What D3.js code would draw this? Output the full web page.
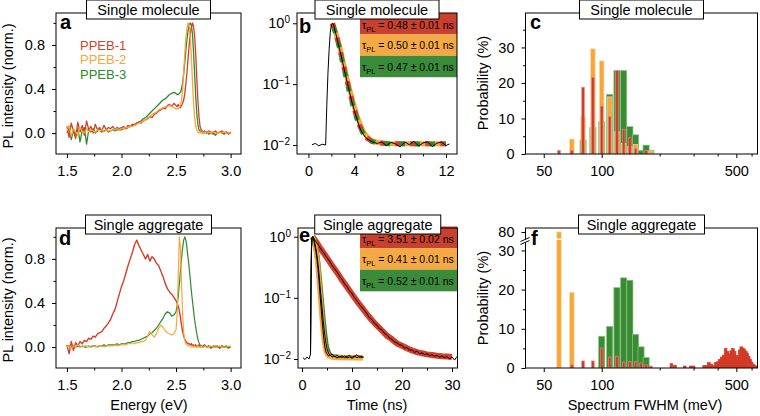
<!DOCTYPE html>
<html><head><meta charset="utf-8">
<script src="https://cdn.jsdelivr.net/npm/d3@7"></script>
<style>
body{margin:0;background:#fff}
svg{font-family:"Liberation Sans",Arial,Helvetica,sans-serif;display:block}
</style></head><body>
<svg id="chart" width="760" height="416"></svg>
<script>
// ---------------- DATA ----------------
const seriesNames = ["PPEB-1","PPEB-2","PPEB-3"];
const energy = [1.50,1.52,1.54,1.56,1.58,1.60,1.62,1.64,1.66,1.68,1.70,1.72,1.74,1.76,1.78,1.80,1.82,1.84,1.86,1.88,1.90,1.92,1.94,1.96,1.98,
2.00,2.02,2.04,2.06,2.08,2.10,2.12,2.14,2.16,2.18,2.20,2.22,2.24,2.26,2.28,2.30,2.32,2.34,2.36,2.38,2.40,2.42,2.44,2.46,2.48,
2.50,2.51,2.52,2.53,2.54,2.55,2.56,2.57,2.58,2.59,2.60,2.61,2.62,2.63,2.64,2.65,2.66,2.67,2.68,2.69,2.70,2.71,2.72,2.73,2.74,2.75,2.76,
2.78,2.80,2.82,2.84,2.86,2.88,2.90,2.92,2.94,2.96,2.98,3.00];

const molRed = [0.06,-0.04,0.09,0.02,-0.05,0.10,0.01,0.07,-0.02,0.11,0.03,0.06,0.00,0.08,0.03,0.05,0.02,0.07,0.03,0.05,0.04,0.06,0.03,0.05,0.04,
0.05,0.06,0.04,0.07,0.06,0.08,0.07,0.09,0.10,0.09,0.11,0.12,0.13,0.15,0.14,0.17,0.18,0.20,0.21,0.23,0.22,0.25,0.26,0.24,0.27,
0.25,0.24,0.26,0.24,0.23,0.25,0.27,0.30,0.36,0.45,0.55,0.68,0.80,0.90,0.96,1.00,0.97,0.88,0.72,0.50,0.30,0.15,0.06,0.03,0.02,0.01,0.02,
0.00,0.02,0.01,-0.01,0.02,0.00,0.01,0.02,0.00,0.01,-0.01,0.01];
const molOrange = [0.02,0.07,-0.03,0.04,0.01,-0.02,0.05,0.02,0.00,0.04,0.01,0.03,0.02,0.01,0.03,0.02,0.03,0.01,0.03,0.02,0.02,0.03,0.03,0.04,0.03,
0.04,0.04,0.05,0.05,0.06,0.06,0.07,0.08,0.09,0.10,0.11,0.12,0.14,0.15,0.17,0.18,0.19,0.21,0.22,0.23,0.24,0.24,0.25,0.24,0.23,
0.22,0.22,0.22,0.23,0.25,0.30,0.40,0.55,0.72,0.86,0.95,1.00,0.98,0.88,0.70,0.48,0.28,0.14,0.06,0.03,0.01,0.00,0.01,0.00,0.01,0.00,0.01,
0.00,0.01,0.00,0.01,0.00,0.00,0.01,0.00,0.01,0.00,0.00,0.01];
const molGreen = [0.00,0.05,-0.06,0.03,-0.02,0.04,-0.08,0.02,0.05,-0.10,0.03,0.01,0.04,0.00,0.02,0.03,0.01,0.02,0.03,0.01,0.02,0.03,0.02,0.03,0.03,
0.03,0.04,0.04,0.05,0.06,0.07,0.08,0.09,0.10,0.11,0.13,0.14,0.16,0.18,0.20,0.22,0.24,0.26,0.28,0.30,0.31,0.33,0.35,0.36,0.37,
0.36,0.35,0.35,0.36,0.37,0.40,0.46,0.54,0.64,0.75,0.85,0.93,0.98,1.00,0.98,0.90,0.74,0.54,0.34,0.18,0.08,0.03,0.02,0.01,0.00,0.01,0.00,
0.01,-0.01,0.00,0.01,-0.02,0.00,0.01,0.00,-0.01,0.01,0.00,0.00];

const aggRed = [0.02,-0.06,0.05,-0.03,0.04,0.01,0.05,0.03,0.06,0.05,0.08,0.07,0.10,0.09,0.12,0.13,0.14,0.17,0.19,0.22,0.25,0.30,0.34,0.41,0.48,
0.55,0.60,0.67,0.74,0.80,0.86,0.93,0.97,0.92,0.88,0.84,0.80,0.84,0.78,0.82,0.80,0.76,0.74,0.69,0.64,0.58,0.53,0.50,0.48,0.45,
0.42,0.40,0.37,0.33,0.27,0.20,0.14,0.10,0.07,0.05,0.04,0.03,0.03,0.02,0.03,0.01,0.02,0.01,0.02,0.00,0.01,0.02,0.00,0.01,0.00,0.01,0.02,
0.00,0.01,-0.01,0.01,0.00,0.01,-0.01,0.01,0.00,0.01,-0.01,0.00];
const aggOrange = [0.00,0.02,-0.01,0.01,0.00,0.02,0.01,0.00,0.01,0.01,0.00,0.01,0.01,0.00,0.01,0.01,0.01,0.00,0.01,0.01,0.01,0.01,0.02,0.01,0.02,
0.02,0.02,0.02,0.03,0.03,0.03,0.03,0.04,0.04,0.05,0.05,0.06,0.10,0.14,0.11,0.09,0.12,0.17,0.20,0.18,0.15,0.13,0.12,0.11,0.12,
0.16,0.30,0.65,1.00,0.90,0.58,0.30,0.13,0.06,0.03,0.02,0.01,0.01,0.01,0.00,0.01,0.00,0.01,0.00,0.00,0.01,0.00,0.00,0.01,0.00,0.00,0.01,
0.00,0.00,0.01,0.00,0.00,0.00,0.01,0.00,0.00,0.00,0.01,0.00];
const aggGreen = [0.00,0.01,0.00,0.01,0.00,0.01,0.00,0.01,0.00,0.00,0.01,0.00,0.01,0.01,0.00,0.01,0.01,0.02,0.01,0.02,0.02,0.02,0.02,0.03,0.02,
0.03,0.03,0.03,0.04,0.04,0.05,0.05,0.06,0.06,0.07,0.08,0.09,0.10,0.12,0.13,0.15,0.17,0.20,0.23,0.26,0.30,0.32,0.31,0.28,0.29,
0.32,0.38,0.46,0.57,0.69,0.80,0.90,0.97,1.00,0.97,0.90,0.81,0.72,0.62,0.51,0.42,0.33,0.25,0.18,0.12,0.07,0.04,0.02,0.01,0.01,0.00,0.01,
0.00,0.01,0.00,0.00,0.01,0.00,0.00,0.01,0.00,0.00,0.00,0.01];

// PL decays, single molecule (b)
const molDecayTime = [0.3,0.6,0.9,1.2,1.5,1.6,1.7,1.8,1.9,2.0,2.1,2.2,2.4,2.6,2.8,3.0,3.2,3.4,3.6,3.8,4.0,4.2,4.4,4.6,4.8,5.0,5.3,5.6,6.0,6.4,6.8,7.2,7.6,8.0,8.4,8.8,9.2,9.6,10.0,10.4,10.8,11.2,11.6,12.0,12.3];
const molDecayData = [0.0101,0.0106,0.0097,0.0103,0.0100,0.045,0.15,0.36,0.70,0.95,1.00,0.93,0.66,0.46,0.32,0.22,0.150,0.104,0.072,0.050,0.037,0.028,0.021,0.017,0.0148,0.0132,0.0120,0.0112,0.0106,0.0112,0.0098,0.0110,0.0104,0.0093,0.0112,0.0101,0.0115,0.0096,0.0108,0.0113,0.0094,0.0107,0.0112,0.0098,0.0104];
const molFitTime = [2.1,2.4,2.7,3.0,3.3,3.6,3.9,4.2,4.5,4.8,5.1,5.5,6.0,7.0,9.0,12.0];
const molFitRed = [1.00,0.66,0.41,0.225,0.128,0.074,0.045,0.029,0.020,0.0155,0.0130,0.0116,0.0109,0.0105,0.0105,0.0105];
const molFitOrange = [1.00,0.68,0.43,0.245,0.140,0.082,0.050,0.032,0.022,0.0165,0.0137,0.0119,0.0110,0.0106,0.0105,0.0105];
const molFitGreen = [1.00,0.65,0.40,0.218,0.123,0.071,0.043,0.028,0.0195,0.0152,0.0128,0.0115,0.0108,0.0105,0.0104,0.0104];
const molTau = ["0.48 \u00b1 0.01 ns","0.50 \u00b1 0.01 ns","0.47 \u00b1 0.01 ns"];

// PL decays, single aggregate (e)
const aggDataTime = [0.2,0.6,1.0,1.4,1.7,1.8,1.9,2.0,2.2,2.6,3.0,3.5,4.0,4.5,5.0,5.5,6.0,6.5,7.0,7.5,8.0,8.5,9.0,9.5,10.0,10.5,11.0,11.5,12.0,12.5,13.0,13.5,14.0,14.5,15.0,15.5,16.0,16.5,17.0,17.5,18.0,18.5,19.0,19.5,20.0,20.5,21.0,21.5,22.0,22.5,23.0,23.5,24.0,24.5,25.0,25.5,26.0,26.5,27.0,27.5,28.0,28.5,29.0,29.5,30.0,30.5,31.0];
const aggData1 = [0.0105,0.0098,0.0108,0.0100,0.012,0.15,0.6,0.95,1.0,0.88,0.78,0.68,0.59,0.52,0.45,0.40,0.34,0.30,0.265,0.225,0.20,0.17,0.152,0.13,0.118,0.10,0.090,0.078,0.070,0.062,0.055,0.047,0.044,0.038,0.036,0.031,0.030,0.026,0.025,0.022,0.021,0.019,0.0185,0.017,0.0168,0.0150,0.0155,0.0138,0.0142,0.0128,0.0135,0.0122,0.0126,0.0118,0.0122,0.0113,0.0118,0.0110,0.0115,0.0108,0.0112,0.0105,0.0110,0.0100,0.0108,0.0096,0.0110];
const aggFastTime = [1.7,1.8,1.9,2.0,2.2,2.5,2.8,3.0,3.2,3.4,3.6,3.8,4.0,4.2,4.4,4.6,4.8,5.0,5.3,5.6,6.0,6.5,7.0,7.5,8.0,8.5,9.0,9.5,10.0,10.5,11.0,11.5,12.0,12.3];
const aggData2 = [0.012,0.2,0.7,0.97,1.0,0.78,0.56,0.43,0.30,0.19,0.115,0.072,0.045,0.029,0.020,0.0155,0.013,0.0122,0.0112,0.0118,0.0108,0.0112,0.0104,0.0110,0.0106,0.0112,0.0104,0.0108,0.0103,0.0109,0.0118,0.0106,0.0110,0.0104];
const aggData3 = [0.012,0.2,0.7,0.97,1.0,0.82,0.62,0.49,0.36,0.245,0.16,0.105,0.070,0.046,0.032,0.023,0.018,0.0148,0.0125,0.0114,0.0120,0.0108,0.0115,0.0106,0.0113,0.0105,0.0110,0.0115,0.0106,0.0112,0.0105,0.0111,0.0106,0.0109];
const aggFitLongTime = [2.1,3,4,5,6,7,8,9,10,11,12,13,14,15,16,17,18,19,20,21,22,23,24,25,26,27,28,29,30];
const aggFitRed = [1.0,0.78,0.59,0.45,0.34,0.26,0.195,0.15,0.115,0.088,0.069,0.054,0.043,0.035,0.029,0.024,0.021,0.018,0.0165,0.015,0.0138,0.0130,0.0124,0.0119,0.0116,0.0113,0.0111,0.0110,0.0108];
const aggFitFastTime = [2.1,2.5,2.8,3.0,3.2,3.4,3.6,3.8,4.0,4.2,4.4,4.6,4.8,5.0,5.4,6.0,8.0,12.2];
const aggFitOrange = [1.0,0.80,0.58,0.44,0.31,0.19,0.12,0.075,0.046,0.030,0.021,0.016,0.0135,0.0122,0.0112,0.0107,0.0105,0.0105];
const aggFitGreen = [1.0,0.83,0.63,0.50,0.37,0.25,0.165,0.11,0.072,0.048,0.033,0.024,0.018,0.0150,0.0122,0.0110,0.0106,0.0105];
const aggTau = ["3.51 \u00b1 0.02 ns","0.41 \u00b1 0.01 ns","0.52 \u00b1 0.01 ns"];

// FWHM histograms (meV bins, % probability)
const fwhmBins = [60,70,80,90,100,110,120,130,140,150,160,170,180,190];
const molHistRed    = [1.0,1.0,18.8,21.6,13.5,10.5,23.5,7.0,4.6,1.5,0,1.0,0,0];
const molHistOrange = [0,4.2,10.5,29.6,26.2,16.1,6.3,3.0,2.1,2.7,0,0,0.8,0];
const molHistGreen  = [0,0,4.0,7.5,9.1,16.8,23.5,23.5,7.7,5.4,1.0,2.5,1.0,0];
const aggHistRed    = [0,0.8,1.8,1.8,5.1,2.8,3.0,1.5,1.7,1.6,1.3,0.8,0.5,0];
const aggHistOrange = [80,19.3,0,0,0,0,0,0,0,0,0,0,0,0];
const aggHistGreen  = [0,0,0,0,8.1,10.6,20.5,23.0,22.4,8.6,5.4,2.7,0,0];
const aggTailBins = [230,240,270,290,300,340,350,360,370,380,390,400,410,420,430,440,450,460,470,480,490,500,510,520,530,540,550,560,570,580,590,600,610,620,630,640];
const aggTailRed  = [1.1,0.7,0.5,0.5,0.5,0.6,0.6,1.4,1.0,0.6,1.4,1.6,2.2,2.8,3.3,5.0,4.2,3.6,4.4,5.0,4.2,3.0,3.2,4.6,5.4,5.1,4.8,4.3,3.8,2.9,2.2,1.5,1.0,0.7,0.5,0.3];

// tick values
const energyTicks = [1.5,2.0,2.5,3.0], energyMinor = [1.75,2.25,2.75];
const plTicks = [0,0.4,0.8], plMinor = [0.2,0.6,1.0];
const molTimeTicks = [0,4,8,12], molTimeMinor = [2,6,10];
const aggTimeTicks = [0,10,20,30], aggTimeMinor = [5,15,25];
const decadeTicks = [1,0.1,0.01];
const fwhmTicks = [50,100,500], fwhmMinor = [200,300,400,600];
const probTicksMol = [0,10,20,30], probMinorMol = [5,15,25,35];
const probTicksAgg = [0,10,20,30,80], probMinorAgg = [5,15,25];

// ---------------- DRAWING ----------------
const FONT = '"Liberation Sans", Arial, Helvetica, sans-serif';
const COL = {red:"#d33f2a", orange:"#f7a63b", green:"#2d8a2d"};
const BOX = {red:"#c9412e", orange:"#f4a944", green:"#3a8b3a"};
const svg = d3.select("#chart");
const defs = svg.append("defs");

const P = {
  a:{L:56,R:241,T:13,B:154}, b:{L:297,R:457,T:13,B:154}, c:{L:525.5,R:757.5,T:13,B:154},
  d:{L:56,R:241,T:228,B:368}, e:{L:298,R:457.5,T:228,B:368}, f:{L:525.5,R:757.5,T:228,B:368}
};
Object.entries(P).forEach(([k,p])=>{
  defs.append("clipPath").attr("id","clip-"+k).append("rect")
    .attr("x",p.L).attr("y",p.T).attr("width",p.R-p.L).attr("height",p.B-p.T);
});
const layerData = svg.append("g");
const layerBox = svg.append("g");
const layerOver = svg.append("g");
const layerTop = svg.append("g");

function styleAxis(g){
  g.select(".domain").remove();
  g.selectAll("line").attr("stroke","#000");
  g.selectAll("text").attr("fill","#000").attr("font-size","14.5px").attr("font-family",FONT);
  g.attr("font-family",FONT);
}
function xAxis(p,x,major,minor,fmt){
  const g=layerOver.append("g").attr("transform",`translate(0,${p.B})`)
    .call(d3.axisBottom(x).tickValues(major).tickSize(4).tickPadding(8).tickFormat(fmt));
  styleAxis(g);
  if(minor.length){
    const m=layerOver.append("g").attr("transform",`translate(0,${p.B})`)
      .call(d3.axisBottom(x).tickValues(minor).tickSize(2.5).tickFormat(""));
    styleAxis(m);
  }
}
function yAxis(p,y,major,minor,fmt,pad){
  const g=layerOver.append("g").attr("transform",`translate(${p.L},0)`)
    .call(d3.axisLeft(y).tickValues(major).tickSize(4).tickPadding(pad).tickFormat(fmt));
  styleAxis(g);
  if(minor.length){
    const m=layerOver.append("g").attr("transform",`translate(${p.L},0)`)
      .call(d3.axisLeft(y).tickValues(minor).tickSize(2.5).tickFormat(""));
    styleAxis(m);
  }
  return g;
}
function supLabels(g){
  g.selectAll(".tick text").each(function(d){
    const e=Math.round(Math.log10(d));
    const t=d3.select(this); t.text("");
    t.append("tspan").text("10");
    t.append("tspan").attr("dy","-0.5em").attr("font-size","10px").text(e===0?"0":"\u2212"+Math.abs(e));
  });
}
function frame(p){
  layerOver.append("rect").attr("x",p.L).attr("y",p.T).attr("width",p.R-p.L).attr("height",p.B-p.T)
    .attr("fill","none").attr("stroke","#000").attr("stroke-width",1);
}
function titleBox(p,text,w){
  const cx=(p.L+p.R)/2;
  layerOver.append("rect").attr("x",cx-w/2).attr("y",p.T-13).attr("width",w).attr("height",19)
    .attr("fill","#fff").attr("stroke","#000").attr("stroke-width",1);
  layerOver.append("text").attr("x",cx).attr("y",p.T+1.5).attr("text-anchor","middle")
    .attr("font-size","14.5px").attr("font-family",FONT).text(text);
}
function letter(t,x,y){
  layerTop.append("text").attr("x",x).attr("y",y).attr("font-size","20px").attr("font-weight","bold")
    .attr("font-family",FONT).text(t);
}
function plotLine(k,xs,ys,x,y,color,width,dash,offset){
  const line=d3.line().x(d=>x(d[0])).y(d=>y(d[1]));
  const path=layerData.append("path").attr("clip-path",`url(#clip-${k})`)
    .datum(d3.zip(xs,ys)).attr("d",line).attr("fill","none").attr("stroke",color)
    .attr("stroke-width",width).attr("stroke-linejoin","round");
  if(dash) path.attr("stroke-dasharray",dash).attr("stroke-dashoffset",offset||0);
  return path;
}
function bars(k,bins,vals,x,y,w,fill,stroke){
  layerData.append("g").attr("clip-path",`url(#clip-${k})`).selectAll("rect")
    .data(d3.zip(bins,vals).filter(d=>d[1]>0)).join("rect")
    .attr("x",d=>x(d[0])-w/2).attr("width",w)
    .attr("y",d=>y(d[1])).attr("height",d=>y(0)-y(d[1]))
    .attr("fill",fill).attr("stroke",stroke).attr("stroke-width",0.7);
}
function tauBoxes(p,vals,top,h){
  const cols=[BOX.red,BOX.orange,BOX.green];
  vals.forEach((v,i)=>{
    const y0=top+i*h;
    layerBox.append("rect").attr("x",360).attr("y",y0).attr("width",p.R-360).attr("height",h).attr("fill",cols[i]);
    const t=layerTop.append("text").attr("x",362).attr("y",y0+h/2+4+(i===0?1.5:0)).attr("font-size","10.5px").attr("font-family",FONT).attr("fill","#000");
    t.append("tspan").text("\u03c4");
    t.append("tspan").attr("dy",3).attr("font-size","7.5px").text("PL");
    t.append("tspan").attr("dy",-3).text(" = "+v);
  });
}

// ----- panels a & d : spectra -----
const xE_a = d3.scaleLinear().domain([1.4,3.095]).range([P.a.L,P.a.R]);
const yA = d3.scaleLinear().domain([-0.19,1.09]).range([P.a.B,P.a.T]);
const xE_d = d3.scaleLinear().domain([1.4,3.095]).range([P.d.L,P.d.R]);
const yD = d3.scaleLinear().domain([-0.19,1.08]).range([P.d.B,P.d.T]);

plotLine("a",energy,molGreen,xE_a,yA,COL.green,1.3);
plotLine("a",energy,molRed,xE_a,yA,COL.red,1.3);
plotLine("a",energy,molOrange,xE_a,yA,COL.orange,1.3);

plotLine("d",energy,aggRed,xE_d,yD,COL.red,1.4);
plotLine("d",energy,aggGreen,xE_d,yD,COL.green,1.2);
plotLine("d",energy,aggOrange,xE_d,yD,COL.orange,1.2);

// ----- panel b : decays single molecule -----
const xTb = d3.scaleLinear().domain([-1,12.96]).range([P.b.L,P.b.R]);
const yLb = d3.scaleLog().domain([0.00711,1.476]).range([P.b.B,P.b.T]);
plotLine("b",molFitTime,molFitOrange,xTb,yLb,COL.orange,5);
plotLine("b",molFitTime,molFitRed,xTb,yLb,COL.red,5,"5,10",0);
plotLine("b",molFitTime,molFitGreen,xTb,yLb,COL.green,5,"5,10",-5);
plotLine("b",molDecayTime,molDecayData,xTb,yLb,"#000",1);

// ----- panel e : decays single aggregate -----
const xTe = d3.scaleLinear().domain([-0.8,31.1]).range([P.e.L,P.e.R]);
const yLe = d3.scaleLog().domain([0.00713,1.387]).range([P.e.B,P.e.T]);
plotLine("e",aggFitLongTime,aggFitRed,xTe,yLe,COL.red,6);
plotLine("e",aggFitFastTime,aggFitGreen,xTe,yLe,COL.green,5);
plotLine("e",aggFitFastTime,aggFitOrange,xTe,yLe,COL.orange,5);
plotLine("e",aggDataTime,aggData1,xTe,yLe,"#000",1);
plotLine("e",aggFastTime,aggData3,xTe,yLe,"#000",1);
plotLine("e",aggFastTime,aggData2,xTe,yLe,"#000",1);

// ----- panels c & f : histograms -----
const xF_c = d3.scaleLog().domain([40.2,644]).range([P.c.L,P.c.R]);
const yC = d3.scaleLinear().domain([0,39.7]).range([P.c.B,P.c.T]);
const xF_f = d3.scaleLog().domain([40.2,644]).range([P.f.L,P.f.R]);
const yF = d3.scaleLinear().domain([0,32.5,78.5,81]).range([P.f.B,240.6,238,P.f.T]);

bars("c",fwhmBins,molHistGreen,xF_c,yC,6.2,"#398c33","#8fc489");
bars("c",fwhmBins,molHistOrange,xF_c,yC,4.4,"#f7a63b","#fbd394");
bars("c",fwhmBins,molHistRed,xF_c,yC,2.6,"#d23a27","#e9857a");

bars("f",fwhmBins,aggHistGreen,xF_f,yF,6.2,"#398c33","#8fc489");
bars("f",fwhmBins,aggHistOrange,xF_f,yF,4.4,"#f7a63b","#fbd394");
bars("f",fwhmBins,aggHistRed,xF_f,yF,2.6,"#d23a27","#e9857a");
bars("f",aggTailBins,aggTailRed,xF_f,yF,2.6,"#d23a27","#d23a27");
// white break line across the broken orange bar
layerData.append("rect").attr("x",xF_f(60)-4).attr("y",238.6).attr("width",8).attr("height",1.4).attr("fill","#fff");

// ----- tau boxes -----
tauBoxes(P.b,molTau,13,21.4);
tauBoxes(P.e,aggTau,226.5,21.6);

// ----- frames & axes -----
["a","b","c","d","e","f"].forEach(k=>frame(P[k]));
const f1=d3.format(".1f");
xAxis(P.a,xE_a,energyTicks,energyMinor,f1);
yAxis(P.a,yA,plTicks,plMinor,f1,7);
xAxis(P.d,xE_d,energyTicks,energyMinor,f1);
yAxis(P.d,yD,plTicks,plMinor,f1,7);

xAxis(P.b,xTb,molTimeTicks,molTimeMinor,d3.format("d"));
supLabels(yAxis(P.b,yLb,decadeTicks,[],d=>d,3));
xAxis(P.e,xTe,aggTimeTicks,aggTimeMinor,d3.format("d"));
supLabels(yAxis(P.e,yLe,decadeTicks,[],d=>d,3));

xAxis(P.c,xF_c,fwhmTicks,fwhmMinor,d3.format("d"));
yAxis(P.c,yC,probTicksMol,probMinorMol,d3.format("d"),7);
xAxis(P.f,xF_f,fwhmTicks,fwhmMinor,d3.format("d"));
yAxis(P.f,yF,probTicksAgg,probMinorAgg,d3.format("d"),7);

// axis break mark on f
layerOver.append("polygon").attr("points",`${P.f.L-5},241.5 ${P.f.L+4},237.5 ${P.f.L+4},240.5 ${P.f.L-5},244.5`).attr("fill","#fff");
layerOver.append("line").attr("x1",P.f.L-5).attr("y1",241.5).attr("x2",P.f.L+4).attr("y2",237.5).attr("stroke","#000");
layerOver.append("line").attr("x1",P.f.L-5).attr("y1",244.5).attr("x2",P.f.L+4).attr("y2",240.5).attr("stroke","#000");

// ----- titles -----
titleBox(P.a,"Single molecule",124);
titleBox(P.b,"Single molecule",124);
titleBox(P.c,"Single molecule",124);
titleBox(P.d,"Single aggregate",126);
titleBox(P.e,"Single aggregate",126);
titleBox(P.f,"Single aggregate",126);

letter("a",60,28.5); letter("b",299,32.5); letter("c",530,28.5);
letter("d",59,245); letter("e",299,242); letter("f",531,245);

// legend in a
[COL.red,COL.orange,COL.green].forEach((c,i)=>{
  layerTop.append("text").attr("x",80).attr("y",49.5+i*14.5).attr("font-size","13px")
    .attr("font-family",FONT).attr("fill",c).text(seriesNames[i]);
});

// axis titles
function yTitle(x,y,t){
  layerTop.append("text").attr("transform",`translate(${x},${y}) rotate(-90)`).attr("text-anchor","middle")
    .attr("font-size","14.5px").attr("font-family",FONT).text(t);
}
yTitle(12.5,86,"PL intensity (norm.)");
yTitle(12.5,300,"PL intensity (norm.)");
yTitle(487.5,83,"Probability (%)");
yTitle(487.5,298,"Probability (%)");
function xTitle(x,t){
  layerTop.append("text").attr("x",x).attr("y",409.5).attr("text-anchor","middle")
    .attr("font-size","14.5px").attr("font-family",FONT).text(t);
}
xTitle(149,"Energy (eV)");
xTitle(377,"Time (ns)");
xTitle(645,"Spectrum FWHM (meV)");
</script>
</body></html>
